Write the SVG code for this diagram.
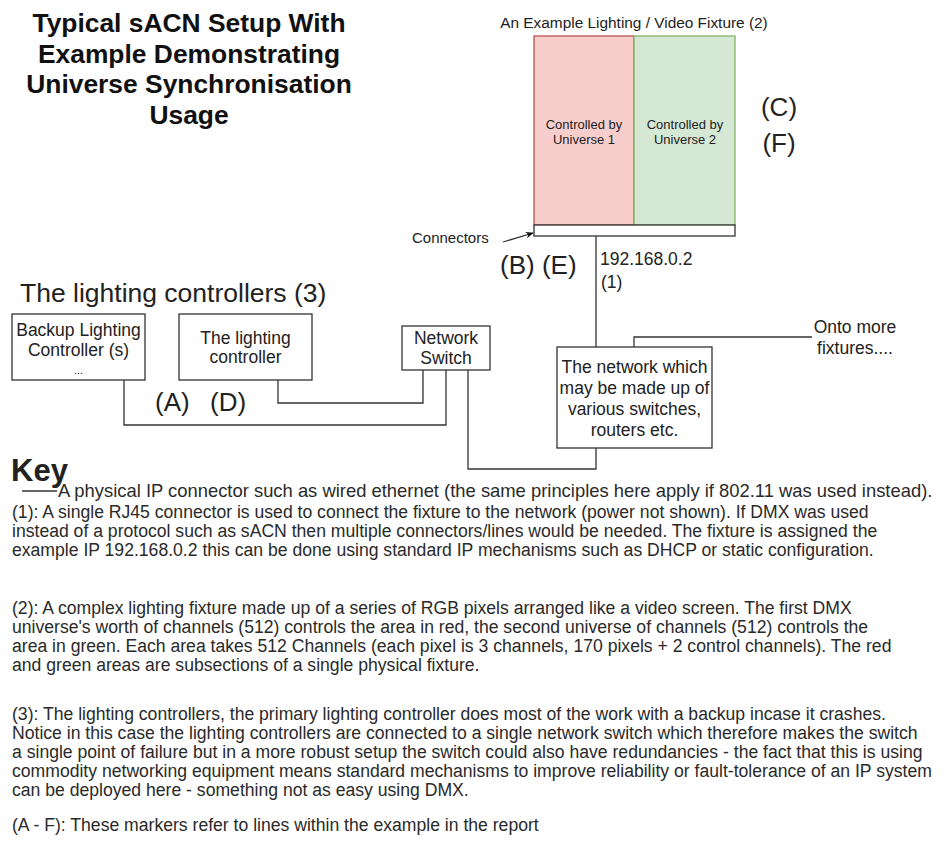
<svg xmlns="http://www.w3.org/2000/svg" width="945" height="855" viewBox="0 0 945 855">
<style>
text{font-family:"Liberation Sans",Arial,sans-serif;fill:#222}
.t{font-size:26.4px;font-weight:bold;text-anchor:middle;fill:#111}
.n{font-size:17.5px;text-anchor:middle}
.ns{font-size:17.5px}
.s{font-size:15px}
.m{font-size:26px}
.k{font-size:17.6px;fill:#2a2a2a}
.box{fill:#fff;stroke:#333;stroke-width:1.3}
.ln{fill:none;stroke:#333;stroke-width:1.3}
</style>
<defs>
<marker id="ah" viewBox="0 0 10 10" refX="9" refY="5" markerWidth="8" markerHeight="8" orient="auto" markerUnits="userSpaceOnUse">
<path d="M0,1 L10,5 L0,9 L3,5 Z" fill="#111"/>
</marker>
</defs>
<g id="title">
<text class="t" x="189" y="32">Typical sACN Setup With</text>
<text class="t" x="189" y="62.5">Example Demonstrating</text>
<text class="t" x="189" y="93">Universe Synchronisation</text>
<text class="t" x="189" y="123.5">Usage</text>
</g>
<g id="connectors">
<path class="ln" d="M596,236 V347"/>
<path class="ln" d="M634,347 V337 H812"/>
<path class="ln" d="M423,370 V403 H278 V380"/>
<path class="ln" d="M446,370 V425 H124 V380"/>
<path class="ln" d="M468,370 V469 H596 V448"/>
<path class="ln" d="M503,242 L533,233" marker-end="url(#ah)"/>
</g>
<g id="fixture">
<text x="634" y="28" font-size="15.4" text-anchor="middle">An Example Lighting / Video Fixture (2)</text>
<rect x="534" y="36" width="100" height="189" fill="#f8cecc" stroke="#b85450" stroke-width="1.3"/>
<rect x="634" y="36" width="101" height="189" fill="#d5e8d4" stroke="#82b366" stroke-width="1.3"/>
<text x="584" y="129" font-size="13" text-anchor="middle" fill="#333">Controlled by</text>
<text x="584" y="144" font-size="13" text-anchor="middle" fill="#333">Universe 1</text>
<text x="685" y="129" font-size="13" text-anchor="middle" fill="#333">Controlled by</text>
<text x="685" y="144" font-size="13" text-anchor="middle" fill="#333">Universe 2</text>
<rect class="box" x="534" y="225" width="201" height="11"/>
</g>
<g id="labels">
<text class="m" x="779" y="116" text-anchor="middle">(C)</text>
<text class="m" x="779" y="152" text-anchor="middle">(F)</text>
<text class="s" x="412" y="243">Connectors</text>
<text class="m" x="500" y="274">(B) (E)</text>
<text class="ns" x="600" y="265">192.168.0.2</text>
<text class="ns" x="601" y="288">(1)</text>
<text class="m" x="155" y="411">(A)</text>
<text class="m" x="210" y="411">(D)</text>
<text x="20" y="302" font-size="26.5">The lighting controllers (3)</text>
<text class="n" x="855" y="333">Onto more</text>
<text class="n" x="855" y="354">fixtures....</text>
</g>
<g id="backup">
<rect class="box" x="12" y="314" width="133" height="66"/>
<text class="n" x="78.5" y="336">Backup Lighting</text>
<text class="n" x="78.5" y="356">Controller (s)</text>
<text x="78.5" y="374" font-size="11" text-anchor="middle" fill="#888">...</text>
</g>
<g id="controller">
<rect class="box" x="179" y="314" width="133" height="66"/>
<text class="n" x="245.5" y="344">The lighting</text>
<text class="n" x="245.5" y="363">controller</text>
</g>
<g id="switch">
<rect class="box" x="402" y="326" width="88" height="44"/>
<text class="n" x="446" y="344">Network</text>
<text class="n" x="446" y="364">Switch</text>
</g>
<g id="network">
<rect class="box" x="557" y="347" width="155" height="101"/>
<text class="n" x="634.5" y="373">The network which</text>
<text class="n" x="634.5" y="394">may be made up of</text>
<text class="n" x="634.5" y="415">various switches,</text>
<text class="n" x="634.5" y="436">routers etc.</text>
</g>
<g id="key">
<text x="11" y="481" font-size="31" font-weight="bold" fill="#111">Key</text>
<path class="ln" d="M22,491 H57"/>
<text class="k" x="58" y="497" style="font-size:18.4px">A physical IP connector such as wired ethernet (the same principles here apply if 802.11 was used instead).</text>
<text class="k" x="12" y="518">(1): A single RJ45 connector is used to connect the fixture to the network (power not shown). If DMX was used</text>
<text class="k" x="12" y="537">instead of a protocol such as sACN then multiple connectors/lines would be needed. The fixture is assigned the</text>
<text class="k" x="12" y="556">example IP 192.168.0.2 this can be done using standard IP mechanisms such as DHCP or static configuration.</text>
<text class="k" x="12" y="614">(2): A complex lighting fixture made up of a series of RGB pixels arranged like a video screen. The first DMX</text>
<text class="k" x="12" y="633">universe's worth of channels (512) controls the area in red, the second universe of channels (512) controls the</text>
<text class="k" x="12" y="652">area in green. Each area takes 512 Channels (each pixel is 3 channels, 170 pixels + 2 control channels). The red</text>
<text class="k" x="12" y="671">and green areas are subsections of a single physical fixture.</text>
<text class="k" x="12" y="720">(3): The lighting controllers, the primary lighting controller does most of the work with a backup incase it crashes.</text>
<text class="k" x="12" y="739">Notice in this case the lighting controllers are connected to a single network switch which therefore makes the switch</text>
<text class="k" x="12" y="758">a single point of failure but in a more robust setup the switch could also have redundancies - the fact that this is using</text>
<text class="k" x="12" y="777">commodity networking equipment means standard mechanisms to improve reliability or fault-tolerance of an IP system</text>
<text class="k" x="12" y="796">can be deployed here - something not as easy using DMX.</text>
<text class="k" x="12" y="831">(A - F): These markers refer to lines within the example in the report</text>
</g>
</svg>
